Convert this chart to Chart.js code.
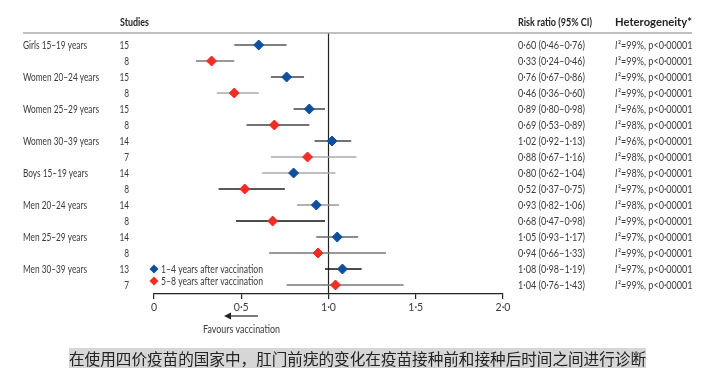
<!DOCTYPE html>
<html>
<head>
<meta charset="utf-8">
<script src="https://cdn.jsdelivr.net/npm/chart.js@4/dist/chart.umd.min.js"></script>
<style>
html,body{margin:0;padding:0;background:#fff;}
#wrap{position:relative;width:705px;height:381px;overflow:hidden;}
#c{position:absolute;left:0;top:0;}
#cap{position:absolute;left:69px;top:348px;width:577px;height:20px;background:#d6d6d6;
 font-family:"Noto Sans CJK SC",sans-serif;font-size:15.6px;line-height:20px;color:#222;white-space:nowrap;letter-spacing:0px;}
</style>
</head>
<body>
<div id="wrap">
<canvas id="c" width="705" height="381"></canvas>
<div id="cap">在使用四价疫苗的国家中，肛门前疣的变化在疫苗接种前和接种后时间之间进行诊断</div>
</div>
<script>
// ---- data ----
const groups = ["Girls 15–19 years","Women 20–24 years","Women 25–29 years","Women 30–39 years",
                "Boys 15–19 years","Men 20–24 years","Men 25–29 years","Men 30–39 years"];
const seriesNames = ["1–4 years after vaccination","5–8 years after vaccination"];
const studies1 = [15,15,15,14,14,14,14,13];
const studies2 = [8,8,8,7,8,8,8,7];
const rr1 = [0.60,0.76,0.89,1.02,0.80,0.93,1.05,1.08];
const lo1 = [0.46,0.67,0.80,0.92,0.62,0.82,0.93,0.98];
const hi1 = [0.76,0.86,0.98,1.13,1.04,1.06,1.17,1.19];
const rr2 = [0.33,0.46,0.69,0.88,0.52,0.68,0.94,1.04];
const lo2 = [0.24,0.36,0.53,0.67,0.37,0.47,0.66,0.76];
const hi2 = [0.46,0.60,0.89,1.16,0.75,0.98,1.33,1.43];
const i2_1 = [99,99,96,96,98,98,97,97];
const i2_2 = [99,99,98,98,97,99,99,99];
const xTicks = [0,0.5,1.0,1.5,2.0];

// ---- styles ----
const BLUE = "#0d4f9e", RED = "#ee2e24";
const ciColors = ["#555","#777","#444","#aaa","#444","#444","#444","#aaa",
                  "#aaa","#222","#999","#111","#666","#777","#111","#777"];
const FONT = 'Lato, "Noto Sans", sans-serif';
const TXT = "#3a3a3a";

function fmt(v){ return v.toFixed(2).replace('.', '·'); }
function ciText(r,l,h){ return fmt(r)+" ("+fmt(l)+"–"+fmt(h)+")"; }

// build datasets
const ciSets = [];
for (let g=0; g<groups.length; g++){
  [[lo1,hi1],[lo2,hi2]].forEach((pair,s)=>{
    const row = 2*g+s;
    ciSets.push({type:'line', data:[{x:pair[0][g],y:row},{x:pair[1][g],y:row}],
      borderColor:ciColors[row], borderWidth:1.5, pointRadius:0, order:2, clip:false});
  });
}
const pts1 = rr1.map((v,g)=>({x:v,y:2*g}));
const pts2 = rr2.map((v,g)=>({x:v,y:2*g+1}));
const refLine = {type:'line', data:[{x:1,y:-0.75},{x:1,y:15.5625}], borderColor:"#222",
  borderWidth:1.2, pointRadius:0, order:3};

const textPlugin = {
  id:'forestText',
  afterDraw(chart){
    const ctx = chart.ctx, ys = chart.scales.y, area = chart.chartArea;
    ctx.save();
    const REG = '11px '+FONT, BOLD = 'bold 11px '+FONT, IT = 'italic 11px '+FONT;
    function scaleFor(str, target, font){ ctx.font = font; return target / ctx.measureText(str).width; }
    const sxL = scaleFor(groups[0], 64, REG);
    const sxC = scaleFor(ciText(rr1[0],lo1[0],hi1[0]), 67, REG);
    const sxH = scaleFor("I²=99%, p<0·00001", 77, REG);
    function T(str, x, y, align, font, color, sx){
      ctx.save();
      ctx.font = font; ctx.fillStyle = color; ctx.textAlign = align; ctx.textBaseline = "middle";
      ctx.translate(x, y); ctx.scale(sx, 1); ctx.fillText(str, 0, 0);
      const w = ctx.measureText(str).width * sx;
      ctx.restore();
      return w;
    }
    function TW(str, x, y, align, font, color, width){
      T(str, x, y, align, font, color, scaleFor(str, width, font));
    }
    // top rule
    ctx.strokeStyle="#aaa"; ctx.lineWidth=1.5;
    ctx.beginPath(); ctx.moveTo(23, area.top); ctx.lineTo(692, area.top); ctx.stroke();
    // headers
    TW("Studies", 120, 22, "left", BOLD, "#222", 29);
    TW("Risk ratio (95% CI)", 518, 22, "left", BOLD, "#222", 74);
    TW("Heterogeneity*", 615, 22, "left", BOLD, "#222", 77);
    for (let g=0; g<groups.length; g++){
      for (let s=0; s<2; s++){
        const row = 2*g+s, y = ys.getPixelForValue(row);
        if (s===0) T(groups[g], 23, y, "left", REG, TXT, sxL);
        T(String(s===0?studies1[g]:studies2[g]), 129, y, "right", REG, TXT, sxL);
        T(s===0?ciText(rr1[g],lo1[g],hi1[g]):ciText(rr2[g],lo2[g],hi2[g]), 518, y, "left", REG, TXT, sxC);
        const w = T("I", 615, y, "left", IT, TXT, sxH);
        T("²="+(s===0?i2_1[g]:i2_2[g])+"%, p<0·00001", 615+w+0.6, y, "left", REG, TXT, sxH);
      }
    }
    // legend
    const lg = [[BLUE, seriesNames[0], 269],[RED, seriesNames[1], 281]];
    lg.forEach(([c,t,y])=>{
      ctx.fillStyle=c; ctx.beginPath();
      ctx.moveTo(154,y-4.5); ctx.lineTo(158.5,y); ctx.lineTo(154,y+4.5); ctx.lineTo(149.5,y); ctx.closePath(); ctx.fill();
      TW(t, 161, y, "left", REG, TXT, 102);
    });
    // arrow
    ctx.strokeStyle="#222"; ctx.lineWidth=1.2;
    ctx.beginPath(); ctx.moveTo(258,316); ctx.lineTo(229,316); ctx.stroke();
    ctx.fillStyle="#222"; ctx.beginPath();
    ctx.moveTo(224,316); ctx.lineTo(231,312.5); ctx.lineTo(231,319.5); ctx.closePath(); ctx.fill();
    TW("Favours vaccination", 241.5, 329, "center", REG, TXT, 77);
    ctx.restore();
  }
};

new Chart(document.getElementById('c'), {
  type:'scatter',
  data:{ datasets:[
    {label:seriesNames[0], data:pts1, backgroundColor:BLUE, borderColor:BLUE, pointStyle:'rectRot', pointRadius:5, order:0},
    {label:seriesNames[1], data:pts2, backgroundColor:RED, borderColor:RED, pointStyle:'rectRot', pointRadius:5, order:0},
    ...ciSets, refLine
  ]},
  options:{
    responsive:false, animation:false, devicePixelRatio:1,
    layout:{padding:{left:154, right:202, top:33, bottom:57}},
    plugins:{legend:{display:false}, tooltip:{enabled:false}},
    scales:{
      x:{type:'linear', min:0, max:2,
        afterBuildTicks(s){ s.ticks = xTicks.map(v=>({value:v})); },
        afterFit(s){ s.height = 30; },
        ticks:{ callback:v=> v===0 ? '0' : v.toFixed(1).replace('.','·'),
          font:{family:FONT, size:10.5}, color:TXT, padding:2, maxRotation:0 },
        grid:{display:true, drawOnChartArea:false, drawTicks:true, tickLength:5, color:"#222", lineWidth:1.2},
        border:{display:true, color:"#222", width:1.2}
      },
      y:{type:'linear', min:-0.75, max:15.5625, reverse:true, display:false}
    }
  },
  plugins:[textPlugin]
});
</script>
</body>
</html>
